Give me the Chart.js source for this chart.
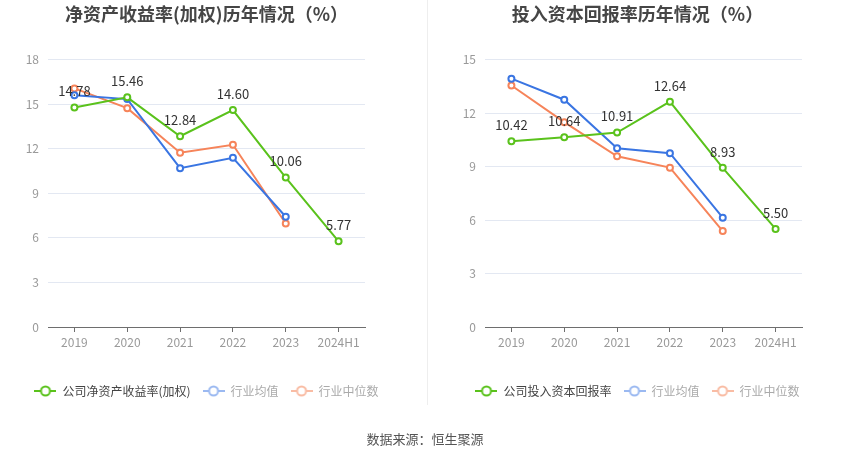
<!DOCTYPE html>
<html>
<head>
<meta charset="utf-8">
<script src="https://cdn.jsdelivr.net/npm/chart.js@4/dist/chart.umd.min.js"></script>
<style>
  html, body { margin: 0; padding: 0; background: #fff; }
  body { width: 850px; height: 459px; position: relative; overflow: hidden;
         font-family: "Noto Sans CJK SC", "Noto Sans", sans-serif; }
  .box { position: absolute; top: 0; width: 425px; height: 459px; }
  #divider { position: absolute; left: 427px; top: 0; width: 1px; height: 405px; background: #eeeeee; }
  #source { position: absolute; left: 0; width: 850px; top: 429px; text-align: center;
            font-size: 13px; color: #555; }
</style>
</head>
<body>
<div class="box" style="left:0"><canvas id="roeChart"></canvas></div>
<div class="box" style="left:425px"><canvas id="roicChart"></canvas></div>
<div id="divider"></div>
<div id="source">数据来源：恒生聚源</div>
<script>
// Categories
const years = ["2019", "2020", "2021", "2022", "2023", "2024H1"];

// Left chart: ROE (weighted), %
const roeCompany = [14.78, 15.46, 12.84, 14.60, 10.06, 5.77];
const roeIndustryAvg = [15.60, 15.34, 10.69, 11.39, 7.42, null];
const roeIndustryMedian = [16.06, 14.73, 11.73, 12.27, 6.97, null];
const roeTicks = [0, 3, 6, 9, 12, 15, 18];

// Right chart: ROIC, %
const roicCompany = [10.42, 10.64, 10.91, 12.64, 8.93, 5.50];
const roicIndustryAvg = [13.93, 12.75, 10.03, 9.75, 6.13, null];
const roicIndustryMedian = [13.55, 11.49, 9.58, 8.94, 5.38, null];
const roicTicks = [0, 3, 6, 9, 12, 15];

const FONT = '"Noto Sans CJK SC", "Noto Sans", sans-serif';
const GREEN = "#5ac21c";
const BLUE = "#3a75e2";
const ORANGE = "#f6845a";

// Small line+circle marker for the legend
function legendMarker(color) {
  const c = document.createElement("canvas");
  c.width = 22;
  c.height = 12;
  const ctx = c.getContext("2d");
  ctx.strokeStyle = color;
  ctx.lineWidth = 2;
  ctx.beginPath();
  ctx.moveTo(0, 6);
  ctx.lineTo(22, 6);
  ctx.stroke();
  ctx.beginPath();
  ctx.arc(11, 6, 4.5, 0, Math.PI * 2);
  ctx.fillStyle = "#fff";
  ctx.fill();
  ctx.stroke();
  return c;
}

const legendStyles = [
  { marker: legendMarker(GREEN), text: "#444" },
  { marker: legendMarker("#9bb9f1"), text: "#aaa" },
  { marker: legendMarker("#f9bca4"), text: "#aaa" },
];

// Draw the company values above its points
const valueLabels = {
  id: "valueLabels",
  afterDatasetsDraw(chart) {
    const ctx = chart.ctx;
    const meta = chart.getDatasetMeta(0);
    const values = chart.data.datasets[0].data;
    ctx.save();
    ctx.font = "13px " + FONT;
    ctx.fillStyle = "#333";
    ctx.textAlign = "center";
    ctx.textBaseline = "middle";
    meta.data.forEach((pt, i) => {
      ctx.fillText(values[i].toFixed(2), pt.x, pt.y - 16);
    });
    ctx.restore();
  },
};

function lineSet(label, data, color) {
  return {
    label,
    data,
    borderColor: color,
    backgroundColor: color,
    borderWidth: 2,
    pointRadius: 3,
    pointHoverRadius: 3,
    pointBorderWidth: 2,
    pointBackgroundColor: "#fff",
    pointBorderColor: color,
    tension: 0,
    spanGaps: false,
  };
}

function makeChart(canvasId, title, names, company, avg, median, ticks, leftWidth, rightWidth, padRight) {
  return new Chart(document.getElementById(canvasId), {
    type: "line",
    data: {
      labels: years,
      datasets: [
        lineSet(names[0], company, GREEN),
        lineSet(names[1], avg, BLUE),
        lineSet(names[2], median, ORANGE),
      ],
    },
    options: {
      responsive: true,
      maintainAspectRatio: false,
      animation: false,
      events: [],
      layout: { padding: { left: 0, right: padRight, top: 0, bottom: 52 } },
      plugins: {
        title: {
          display: true,
          text: title,
          color: "#464646",
          font: { family: FONT, size: 18, weight: "bold" },
          padding: { top: 3, bottom: 35 },
        },
        legend: {
          position: "bottom",
          labels: {
            usePointStyle: true,
            pointStyleWidth: 22,
            padding: 12,
            font: { family: FONT, size: 12 },
            generateLabels(chart) {
              return chart.data.datasets.map((ds, i) => ({
                text: ds.label,
                pointStyle: legendStyles[i].marker,
                fontColor: legendStyles[i].text,
                datasetIndex: i,
                lineWidth: 0,
              }));
            },
          },
        },
        tooltip: { enabled: false },
      },
      scales: {
        x: {
          offset: true,
          grid: {
            offset: false,
            drawOnChartArea: false,
            drawTicks: true,
            tickLength: 5,
            color: "#6e6e6e",
          },
          border: { color: "#6e6e6e" },
          ticks: { color: "#999", font: { family: FONT, size: 12 }, padding: 3 },
          afterFit(scale) { scale.height = 46; },
        },
        y: {
          min: ticks[0],
          max: ticks[ticks.length - 1],
          afterBuildTicks(scale) { scale.ticks = ticks.map(v => ({ value: v })); },
          grid: { color: "#e3e8f2", drawTicks: false },
          border: { display: false },
          ticks: { color: "#999", font: { family: FONT, size: 12 }, padding: 9 },
          afterFit(scale) { scale.width = leftWidth; },
        },
        // empty spacer axis that keeps the plot narrower than the legend
        spacer: {
          type: "linear",
          position: "right",
          grid: { display: false },
          border: { display: false },
          ticks: { display: false },
          afterFit(scale) { scale.width = rightWidth; },
        },
      },
    },
    plugins: [valueLabels],
  });
}

makeChart("roeChart", "净资产收益率(加权)历年情况（%）",
  ["公司净资产收益率(加权)", "行业均值", "行业中位数"],
  roeCompany, roeIndustryAvg, roeIndustryMedian, roeTicks, 48, 48, 12);

makeChart("roicChart", "投入资本回报率历年情况（%）",
  ["公司投入资本回报率", "行业均值", "行业中位数"],
  roicCompany, roicIndustryAvg, roicIndustryMedian, roicTicks, 60, 48, 0);
</script>
</body>
</html>
